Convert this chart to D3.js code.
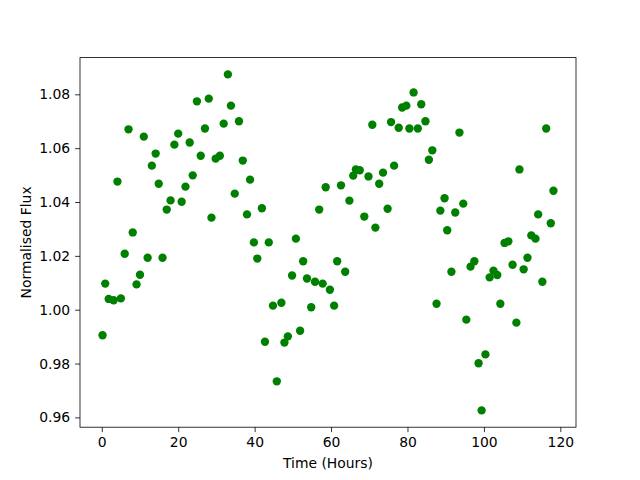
<!DOCTYPE html>
<html>
<head>
<meta charset="utf-8">
<script src="https://cdn.jsdelivr.net/npm/d3@7"></script>
<style>
  body { margin: 0; background: #fff; }
  svg text { font-family: "DejaVu Sans", sans-serif; }
</style>
</head>
<body>
<div id="chart"></div>
<script>
// time of each sample (hours)
const times = [
  0.2, 0.9, 1.8, 3.1, 4.1, 5.0, 6.0, 7.0, 8.1, 9.1,
  10.0, 11.0, 12.0, 13.1, 14.1, 14.9, 15.9, 17.0, 18.0, 19.0,
  20.0, 20.9, 21.9, 23.0, 23.8, 24.9, 25.9, 27.0, 28.0, 28.7,
  29.8, 30.9, 31.9, 33.0, 33.8, 34.8, 35.9, 36.9, 38.0, 38.8,
  39.8, 40.7, 41.9, 42.7, 43.7, 44.8, 45.8, 47.0, 47.8, 48.7,
  49.8, 50.8, 51.9, 52.7, 53.7, 54.8, 55.8, 56.9, 57.8, 58.6,
  59.7, 60.8, 61.6, 62.6, 63.7, 64.8, 65.8, 66.5, 67.5, 68.7,
  69.8, 70.8, 71.6, 72.6, 73.6, 74.8, 75.7, 76.5, 77.7, 78.6,
  79.7, 80.5, 81.6, 82.7, 83.6, 84.7, 85.6, 86.5, 87.6, 88.6,
  89.7, 90.4, 91.5, 92.5, 93.6, 94.6, 95.4, 96.5, 97.5, 98.6,
  99.4, 100.4, 101.5, 102.5, 103.5, 104.3, 105.4, 106.4, 107.5, 108.5,
  109.3, 110.4, 111.4, 112.4, 113.5, 114.2, 115.3, 116.3, 117.5, 118.2
];

// normalised flux for each sample
const flux = [
  0.9905, 1.0097, 1.0040, 1.0035, 1.0476, 1.0042, 1.0208, 1.0670, 1.0287, 1.0094,
  1.0130, 1.0643, 1.0193, 1.0535, 1.0580, 1.0468, 1.0193, 1.0372, 1.0406, 1.0613,
  1.0654, 1.0401, 1.0457, 1.0621, 1.0499, 1.0774, 1.0572, 1.0673, 1.0784, 1.0342,
  1.0561, 1.0572, 1.0691, 1.0874, 1.0758, 1.0431, 1.0700, 1.0554, 1.0354, 1.0483,
  1.0250, 1.0190, 1.0377, 0.9881, 1.0250, 1.0015, 0.9734, 1.0026, 0.9878, 0.9901,
  1.0127, 1.0264, 0.9922, 1.0180, 1.0116, 1.0009, 1.0104, 1.0372, 1.0097, 1.0455,
  1.0074, 1.0015, 1.0180, 1.0462, 1.0141, 1.0405, 1.0498, 1.0521, 1.0518, 1.0346,
  1.0495, 1.0687, 1.0305, 1.0468, 1.0509, 1.0375, 1.0697, 1.0535, 1.0676, 1.0751,
  1.0758, 1.0673, 1.0807, 1.0673, 1.0763, 1.0700, 1.0557, 1.0592, 1.0022, 1.0368,
  1.0414, 1.0295, 1.0141, 1.0361, 1.0658, 1.0394, 0.9963, 1.0160, 1.0180, 0.9801,
  0.9626, 0.9834, 1.0120, 1.0145, 1.0129, 1.0022, 1.0248, 1.0254, 1.0167, 0.9952,
  1.0521, 1.0150, 1.0193, 1.0276, 1.0264, 1.0354, 1.0104, 1.0673, 1.0321, 1.0442
];

const xTicks = [0, 20, 40, 60, 80, 100, 120];
const yTicks = [0.96, 0.98, 1.00, 1.02, 1.04, 1.06, 1.08];

const W = 640, H = 480;
const margin = { top: 57.6, right: 64, bottom: 52.8, left: 80 };
const width = W - margin.left - margin.right;
const height = H - margin.top - margin.bottom;

const svg = d3.select('#chart').append('svg')
  .attr('width', W)
  .attr('height', H);

const g = svg.append('g')
  .attr('transform', `translate(${margin.left},${margin.top})`);

// matplotlib-style 5% padding around the data
const [x0, x1] = d3.extent(times);
const [y0, y1] = d3.extent(flux);
const xPad = (x1 - x0) * 0.05, yPad = (y1 - y0) * 0.05;

const xScale = d3.scaleLinear().domain([x0 - xPad, x1 + xPad]).range([0, width]);
const yScale = d3.scaleLinear().domain([y0 - yPad, y1 + yPad]).range([height, 0]);

// points
g.append('g')
  .selectAll('circle')
  .data(times.map((t, i) => ({ t, f: flux[i] })))
  .join('circle')
    .attr('cx', d => xScale(d.t))
    .attr('cy', d => yScale(d.f))
    .attr('r', 4.17)
    .attr('fill', '#008000');

// x-axis
const xAxis = g.append('g')
  .attr('transform', `translate(0,${height})`)
  .call(d3.axisBottom(xScale).tickValues(xTicks).tickFormat(d3.format('d'))
    .tickSize(4.9).tickPadding(4.9).tickSizeOuter(0));

// y-axis
const yAxis = g.append('g')
  .call(d3.axisLeft(yScale).tickValues(yTicks).tickFormat(d3.format('.2f'))
    .tickSize(4.9).tickPadding(4.9).tickSizeOuter(0));

[xAxis, yAxis].forEach(ax => {
  ax.select('.domain').remove();
  ax.selectAll('.tick line').attr('stroke', '#000').attr('stroke-width', 0.8);
  ax.selectAll('text')
    .style('font-size', '13.9px')
    .attr('fill', '#000')
    .style('font-family', '"DejaVu Sans", sans-serif');
});

// frame
g.append('rect')
  .attr('width', width)
  .attr('height', height)
  .attr('fill', 'none')
  .attr('stroke', '#000')
  .attr('stroke-width', 0.8);

// axis labels
svg.append('text')
  .attr('x', margin.left + width / 2)
  .attr('y', 468)
  .attr('text-anchor', 'middle')
  .style('font-size', '13.9px')
  .text('Time (Hours)');

svg.append('text')
  .attr('transform', `translate(31,${margin.top + height / 2}) rotate(-90)`)
  .attr('text-anchor', 'middle')
  .style('font-size', '13.9px')
  .text('Normalised Flux');
</script>
</body>
</html>
